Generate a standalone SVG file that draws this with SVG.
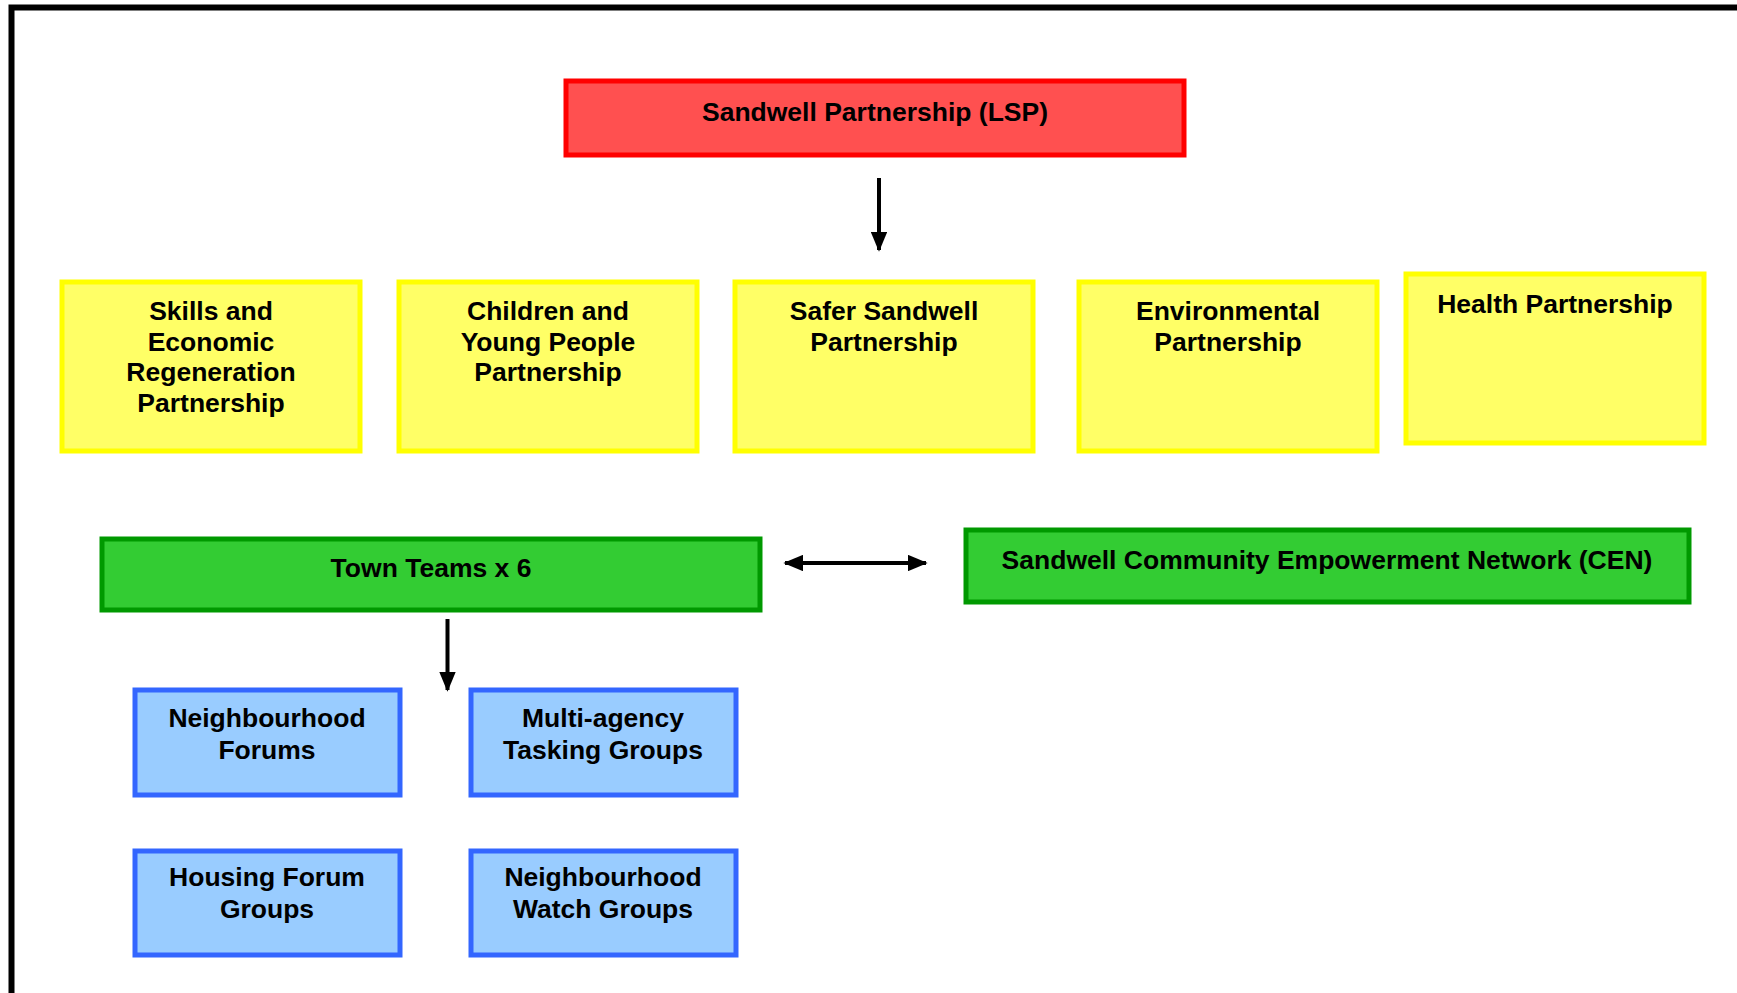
<svg xmlns="http://www.w3.org/2000/svg" width="1737" height="993" viewBox="0 0 1737 993">
<defs>
<style>
.t{font-family:"Liberation Sans",Arial,sans-serif;font-weight:bold;font-size:26.5px;fill:#000;text-anchor:middle}
.red{fill:#FF5050;stroke:#FF0000;stroke-width:5}
.yel{fill:#FFFF66;stroke:#FFFF00;stroke-width:5}
.grn{fill:#33CC33;stroke:#009900;stroke-width:5}
.blu{fill:#99CCFF;stroke:#3366FF;stroke-width:5}
.ln{stroke:#000;stroke-width:4;fill:none}
</style>
<marker id="ah" viewBox="0 0 12 10" refX="11" refY="5" markerWidth="5" markerHeight="4.2" markerUnits="strokeWidth" orient="auto-start-reverse">
<path d="M0,0 L12,5 L0,10 Z" fill="#000"/>
</marker>
</defs>
<rect width="1737" height="993" fill="#fff"/>
<path d="M11.5,993 V7.5 H1737" fill="none" stroke="#000" stroke-width="6"/>

<g id="lsp"><rect class="red" x="566" y="81" width="618" height="74"/><text class="t" x="875" y="121">Sandwell Partnership (LSP)</text></g>

<g id="skills"><rect class="yel" x="62" y="282" width="298" height="169"/>
<text class="t" x="211" y="320">Skills and</text><text class="t" x="211" y="350.6">Economic</text><text class="t" x="211" y="381.2">Regeneration</text><text class="t" x="211" y="411.8">Partnership</text></g>

<g id="children"><rect class="yel" x="399" y="282" width="298" height="169"/>
<text class="t" x="548" y="320">Children and</text><text class="t" x="548" y="350.6">Young People</text><text class="t" x="548" y="381.2">Partnership</text></g>

<g id="safer"><rect class="yel" x="735" y="282" width="298" height="169"/>
<text class="t" x="884" y="320">Safer Sandwell</text><text class="t" x="884" y="350.6">Partnership</text></g>

<g id="env"><rect class="yel" x="1079" y="282" width="298" height="169"/>
<text class="t" x="1228" y="320">Environmental</text><text class="t" x="1228" y="350.6">Partnership</text></g>

<g id="health"><rect class="yel" x="1406" y="274" width="298" height="169"/>
<text class="t" x="1555" y="313">Health Partnership</text></g>

<g id="town"><rect class="grn" x="102" y="539" width="658" height="71"/><text class="t" x="431" y="576.5">Town Teams x 6</text></g>

<g id="cen"><rect class="grn" x="966" y="530" width="723" height="72"/><text class="t" x="1327" y="568.5">Sandwell Community Empowerment Network (CEN)</text></g>

<g id="nf"><rect class="blu" x="135" y="690" width="265" height="105"/>
<text class="t" x="267" y="726.5">Neighbourhood</text><text class="t" x="267" y="758.5">Forums</text></g>

<g id="matg"><rect class="blu" x="471" y="690" width="265" height="105"/>
<text class="t" x="603" y="726.5">Multi-agency</text><text class="t" x="603" y="758.5">Tasking Groups</text></g>

<g id="hfg"><rect class="blu" x="135" y="851" width="265" height="104"/>
<text class="t" x="267" y="886">Housing Forum</text><text class="t" x="267" y="918">Groups</text></g>

<g id="nwg"><rect class="blu" x="471" y="851" width="265" height="104"/>
<text class="t" x="603" y="886">Neighbourhood</text><text class="t" x="603" y="918">Watch Groups</text></g>

<g id="connectors">
<line class="ln" x1="879" y1="178" x2="879" y2="250" marker-end="url(#ah)"/>
<line class="ln" x1="785" y1="563" x2="926" y2="563" marker-start="url(#ah)" marker-end="url(#ah)"/>
<line class="ln" x1="447.5" y1="619" x2="447.5" y2="690" marker-end="url(#ah)"/>
</g>
</svg>
